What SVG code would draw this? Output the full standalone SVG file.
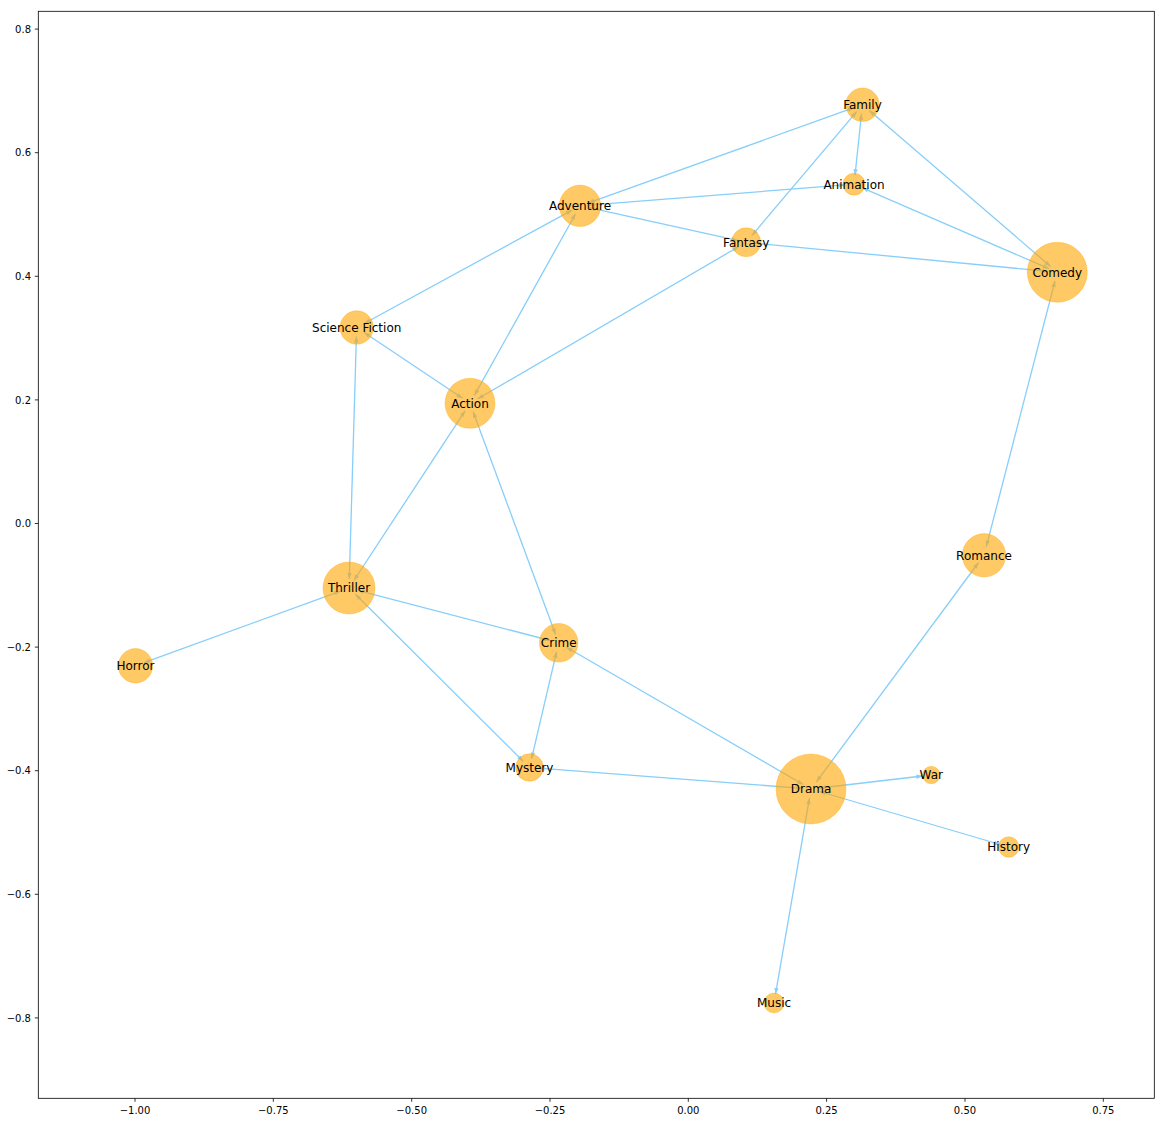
<svg xmlns="http://www.w3.org/2000/svg" width="1165" height="1122" viewBox="0 0 1165 1122">
<style>
.edge{stroke:#87CEFA;stroke-width:1.3;fill:none;marker-start:url(#ah);marker-end:url(#ah)}
.node circle{fill:#FFA500;fill-opacity:0.6;stroke:#FFA500;stroke-opacity:0.35;stroke-width:1}
.node text{font-family:"DejaVu Sans",sans-serif;font-size:12px;fill:#000;text-anchor:middle}
.tick{stroke:#000;stroke-width:0.8}
.yl{font-family:"DejaVu Sans",sans-serif;font-size:10px;fill:#000;text-anchor:end}
.xl{font-family:"DejaVu Sans",sans-serif;font-size:10px;fill:#000;text-anchor:middle}
</style>
<defs>
<marker id="ah" markerUnits="userSpaceOnUse" markerWidth="10" markerHeight="10" viewBox="-8 -4 10 8" refX="0" refY="0" orient="auto-start-reverse">
<path d="M0,0 L-6,-2.2 L-6,2.2 z" fill="#87CEFA"/>
</marker>
</defs>
<rect width="1165" height="1122" fill="#fff"/>
<g id="axes">
<rect x="38.3" y="11.3" width="1116" height="1087" fill="none" stroke="#000" stroke-width="0.8"/>
<g class="tick">
<line x1="34.8" y1="29.1" x2="38.3" y2="29.1"/>
<line x1="34.8" y1="152.7" x2="38.3" y2="152.7"/>
<line x1="34.8" y1="276.3" x2="38.3" y2="276.3"/>
<line x1="34.8" y1="399.9" x2="38.3" y2="399.9"/>
<line x1="34.8" y1="523.5" x2="38.3" y2="523.5"/>
<line x1="34.8" y1="647.1" x2="38.3" y2="647.1"/>
<line x1="34.8" y1="770.7" x2="38.3" y2="770.7"/>
<line x1="34.8" y1="894.3" x2="38.3" y2="894.3"/>
<line x1="34.8" y1="1017.9" x2="38.3" y2="1017.9"/>
<line x1="135" y1="1098.3" x2="135" y2="1101.8"/>
<line x1="273.3" y1="1098.3" x2="273.3" y2="1101.8"/>
<line x1="411.7" y1="1098.3" x2="411.7" y2="1101.8"/>
<line x1="550" y1="1098.3" x2="550" y2="1101.8"/>
<line x1="688.3" y1="1098.3" x2="688.3" y2="1101.8"/>
<line x1="826.6" y1="1098.3" x2="826.6" y2="1101.8"/>
<line x1="965" y1="1098.3" x2="965" y2="1101.8"/>
<line x1="1103.3" y1="1098.3" x2="1103.3" y2="1101.8"/>
</g>
<text class="yl" x="31" y="32.7">0.8</text>
<text class="yl" x="31" y="156.3">0.6</text>
<text class="yl" x="31" y="279.9">0.4</text>
<text class="yl" x="31" y="403.5">0.2</text>
<text class="yl" x="31" y="527.1">0.0</text>
<text class="yl" x="31" y="650.7">−0.2</text>
<text class="yl" x="31" y="774.3">−0.4</text>
<text class="yl" x="31" y="897.9">−0.6</text>
<text class="yl" x="31" y="1021.5">−0.8</text>
<text class="xl" x="135" y="1113.5">−1.00</text>
<text class="xl" x="273.3" y="1113.5">−0.75</text>
<text class="xl" x="411.7" y="1113.5">−0.50</text>
<text class="xl" x="550" y="1113.5">−0.25</text>
<text class="xl" x="688.3" y="1113.5">0.00</text>
<text class="xl" x="826.6" y="1113.5">0.25</text>
<text class="xl" x="965" y="1113.5">0.50</text>
<text class="xl" x="1103.3" y="1113.5">0.75</text>
</g>
<g id="edges">
<line class="edge" x1="854.0" y1="107.7" x2="588.5" y2="202.8"/>
<line class="edge" x1="861.5" y1="113.7" x2="855.0" y2="175.3"/>
<line class="edge" x1="856.7" y1="111.6" x2="752.0" y2="235.4"/>
<line class="edge" x1="869.3" y1="110.6" x2="1050.5" y2="266.4"/>
<line class="edge" x1="589.0" y1="205.1" x2="845.0" y2="184.9"/>
<line class="edge" x1="588.8" y1="207.7" x2="737.4" y2="240.4"/>
<line class="edge" x1="572.1" y1="210.1" x2="364.6" y2="323.2"/>
<line class="edge" x1="575.6" y1="213.7" x2="474.4" y2="395.4"/>
<line class="edge" x1="862.3" y1="187.8" x2="1049.0" y2="268.7"/>
<line class="edge" x1="755.2" y1="243.2" x2="1048.3" y2="271.4"/>
<line class="edge" x1="738.4" y1="246.8" x2="477.8" y2="398.8"/>
<line class="edge" x1="1055.0" y1="281.0" x2="986.3" y2="546.6"/>
<line class="edge" x1="364.2" y1="332.5" x2="462.5" y2="398.3"/>
<line class="edge" x1="356.4" y1="336.5" x2="349.3" y2="579.0"/>
<line class="edge" x1="465.1" y1="410.8" x2="353.9" y2="580.5"/>
<line class="edge" x1="473.1" y1="411.7" x2="555.6" y2="634.4"/>
<line class="edge" x1="340.5" y1="591.1" x2="144.0" y2="662.7"/>
<line class="edge" x1="357.7" y1="590.3" x2="550.0" y2="640.5"/>
<line class="edge" x1="355.4" y1="594.3" x2="523.1" y2="761.2"/>
<line class="edge" x1="556.6" y1="651.6" x2="531.6" y2="758.7"/>
<line class="edge" x1="566.5" y1="647.3" x2="803.2" y2="784.5"/>
<line class="edge" x1="538.5" y1="768.2" x2="802.0" y2="788.3"/>
<line class="edge" x1="978.6" y1="562.5" x2="816.4" y2="781.8"/>
<line class="edge" x1="819.9" y1="788.0" x2="922.4" y2="776.0"/>
<line class="edge" x1="819.6" y1="791.5" x2="1000.1" y2="844.5"/>
<line class="edge" x1="809.5" y1="797.9" x2="775.5" y2="994.1"/>
</g>
<g id="node-family" class="node"><circle cx="862.5" cy="104.7" r="16.7"/><text x="862.5" y="109">Family</text></g>
<g id="node-animation" class="node"><circle cx="854" cy="184.2" r="11"/><text x="854" y="188.5">Animation</text></g>
<g id="node-adventure" class="node"><circle cx="580" cy="205.8" r="20.7"/><text x="580" y="210.1">Adventure</text></g>
<g id="node-fantasy" class="node"><circle cx="746.2" cy="242.3" r="14.5"/><text x="746.2" y="246.6">Fantasy</text></g>
<g id="node-comedy" class="node"><circle cx="1057.3" cy="272.3" r="30"/><text x="1057.3" y="276.6">Comedy</text></g>
<g id="node-science-fiction" class="node"><circle cx="356.7" cy="327.5" r="16.7"/><text x="356.7" y="331.8">Science Fiction</text></g>
<g id="node-action" class="node"><circle cx="470" cy="403.3" r="25"/><text x="470" y="407.6">Action</text></g>
<g id="node-romance" class="node"><circle cx="984" cy="555.3" r="21.7"/><text x="984" y="559.6">Romance</text></g>
<g id="node-thriller" class="node"><circle cx="349" cy="588" r="26"/><text x="349" y="592.3">Thriller</text></g>
<g id="node-horror" class="node"><circle cx="135.5" cy="665.8" r="17.2"/><text x="135.5" y="670.1">Horror</text></g>
<g id="node-crime" class="node"><circle cx="558.7" cy="642.8" r="19.3"/><text x="558.7" y="647.1">Crime</text></g>
<g id="node-mystery" class="node"><circle cx="529.5" cy="767.5" r="13.8"/><text x="529.5" y="771.8">Mystery</text></g>
<g id="node-drama" class="node"><circle cx="811" cy="789" r="35"/><text x="811" y="793.3">Drama</text></g>
<g id="node-war" class="node"><circle cx="931.3" cy="775" r="8.7"/><text x="931.3" y="779.3">War</text></g>
<g id="node-history" class="node"><circle cx="1008.7" cy="847" r="10.3"/><text x="1008.7" y="851.3">History</text></g>
<g id="node-music" class="node"><circle cx="774" cy="1003" r="10"/><text x="774" y="1007.3">Music</text></g>
</svg>
